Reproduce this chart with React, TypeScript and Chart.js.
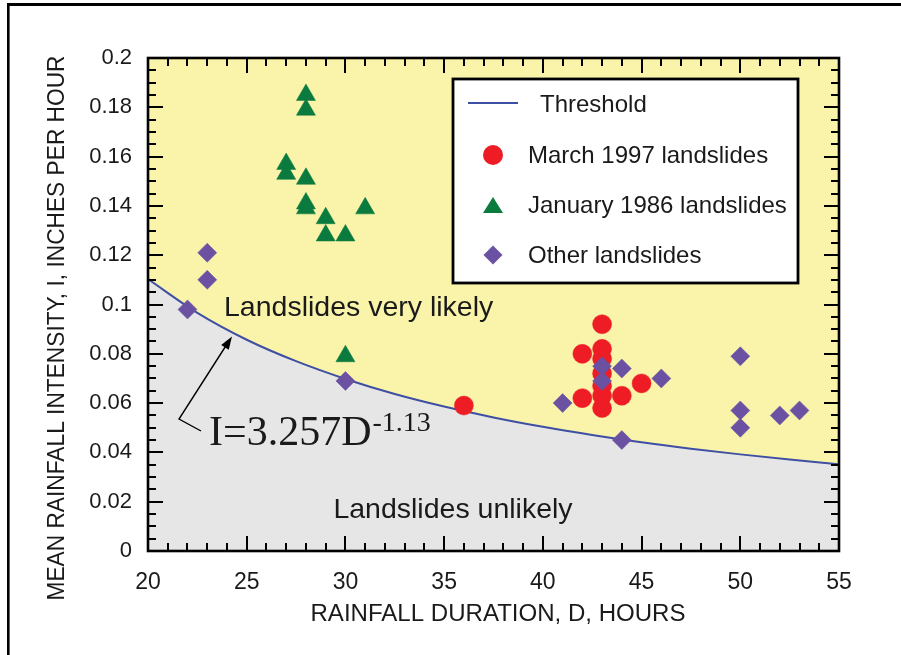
import React, { useEffect, useRef } from 'react';
import { Chart, registerables } from 'chart.js';

Chart.register(...registerables);

// ---- data ----
const thresholdD = [20, 22.5, 25, 27.5, 30, 32.5, 35, 37.5, 40, 42.5, 45, 47.5, 50, 52.5, 55];
const thresholdI = [0.1103, 0.0966, 0.0857, 0.077, 0.0698, 0.0637, 0.0586, 0.0542, 0.0504, 0.0471, 0.0441, 0.0415, 0.0392, 0.0371, 0.0352];

const marchD = [36, 42, 42, 43, 43, 43, 43, 43, 43, 43, 44, 45];
const marchI = [0.059, 0.08, 0.062, 0.092, 0.082, 0.078, 0.072, 0.067, 0.063, 0.058, 0.063, 0.068];

const januaryD = [28, 28, 27, 27, 28, 28, 28, 29, 29, 30, 31, 30];
const januaryI = [0.185, 0.179, 0.157, 0.153, 0.151, 0.141, 0.139, 0.135, 0.128, 0.128, 0.139, 0.079];

const otherD = [22, 23, 23, 30, 41, 43, 43, 44, 46, 44, 50, 50, 50, 52, 53];
const otherI = [0.098, 0.121, 0.11, 0.069, 0.06, 0.075, 0.069, 0.074, 0.07, 0.045, 0.079, 0.057, 0.05, 0.055, 0.057];

const seriesNames = ['Threshold', 'March 1997 landslides', 'January 1986 landslides', 'Other landslides'];
const xTitle = 'RAINFALL DURATION, D, HOURS';
const yTitle = 'MEAN RAINFALL INTENSITY, I, INCHES PER HOUR';
const aboveLabel = 'Landslides very likely';
const belowLabel = 'Landslides unlikely';
const equationMain = 'I=3.257D';
const equationExp = '-1.13';

// ---- styles ----
const YELLOW = '#f9f4a9';
const GREY = '#e6e6e6';
const BLUE = '#3f4fa3';
const RED = '#ee1c25';
const GREEN = '#0b7a3e';
const PURPLE = '#6a51a2';
const INK = '#1a1a1a';
const SANS = '"Liberation Sans", Arial, Helvetica, sans-serif';
const SERIF = '"Liberation Serif", "Times New Roman", serif';

const toPts = (xs: number[], ys: number[]) => xs.map((x, i) => ({ x, y: ys[i] }));

function drawMarker(ctx: CanvasRenderingContext2D, kind: string, x: number, y: number) {
  ctx.beginPath();
  if (kind === 'circle') {
    ctx.fillStyle = RED;
    ctx.arc(x, y, 10, 0, Math.PI * 2);
  } else if (kind === 'triangle') {
    ctx.fillStyle = GREEN;
    ctx.moveTo(x, y - 9);
    ctx.lineTo(x + 10, y + 7);
    ctx.lineTo(x - 10, y + 7);
    ctx.closePath();
  } else {
    ctx.fillStyle = PURPLE;
    ctx.moveTo(x, y - 9.5);
    ctx.lineTo(x + 9.5, y);
    ctx.lineTo(x, y + 9.5);
    ctx.lineTo(x - 9.5, y);
    ctx.closePath();
  }
  ctx.fill();
}

function stretchedText(ctx: CanvasRenderingContext2D, text: string, cx: number, cy: number, targetW: number, rotate: boolean) {
  ctx.save();
  ctx.translate(cx, cy);
  if (rotate) ctx.rotate(-Math.PI / 2);
  const w = ctx.measureText(text).width;
  ctx.scale(targetW / w, 1);
  ctx.textAlign = 'center';
  ctx.textBaseline = 'middle';
  ctx.fillText(text, 0, 0);
  ctx.restore();
}

const decor = {
  id: 'decor',
  beforeDraw(chart: any) {
    const { ctx, chartArea: a, width, height } = chart;
    ctx.save();
    ctx.fillStyle = '#ffffff';
    ctx.fillRect(0, 0, width, height);
    ctx.fillStyle = YELLOW;
    ctx.fillRect(a.left, a.top, a.right - a.left, a.bottom - a.top);
    ctx.fillStyle = '#000';
    ctx.fillRect(7, 3, width - 7, 3);
    ctx.fillRect(7, 3, 2.6, height - 3);
    ctx.restore();
  },
  afterDatasetsDraw(chart: any) {
    const { ctx } = chart;
    ctx.save();
    ctx.fillStyle = INK;
    ctx.textBaseline = 'alphabetic';
    ctx.font = `28.5px ${SANS}`;
    ctx.textAlign = 'left';
    ctx.fillText(aboveLabel, 224, 316);
    ctx.textAlign = 'center';
    ctx.fillText(belowLabel, 453, 518);

    // equation
    ctx.textAlign = 'left';
    ctx.font = `42px ${SERIF}`;
    ctx.fillText(equationMain, 209, 445);
    const w = ctx.measureText(equationMain).width;
    ctx.font = `28px ${SERIF}`;
    ctx.fillText(equationExp, 209 + w + 1, 431);

    // arrow
    ctx.strokeStyle = '#000';
    ctx.lineWidth = 1.4;
    ctx.beginPath();
    ctx.moveTo(201, 431);
    ctx.lineTo(179, 419);
    ctx.lineTo(229, 341);
    ctx.stroke();
    const tx = 232, ty = 336.5;
    const dx = 232 - 179, dy = 336.5 - 419;
    const len = Math.hypot(dx, dy);
    const ux = dx / len, uy = dy / len;
    const bx = tx - ux * 13, by = ty - uy * 13;
    ctx.fillStyle = '#000';
    ctx.beginPath();
    ctx.moveTo(tx, ty);
    ctx.lineTo(bx - uy * 4.5, by + ux * 4.5);
    ctx.lineTo(bx + uy * 4.5, by - ux * 4.5);
    ctx.closePath();
    ctx.fill();
    ctx.restore();
  },
  afterDraw(chart: any) {
    const { ctx, chartArea: a, scales } = chart;
    const xs = scales.x, ys = scales.y;
    ctx.save();
    // inward ticks
    ctx.strokeStyle = '#000';
    ctx.lineWidth = 2;
    ctx.beginPath();
    for (let d = 20; d <= 55; d += 1) {
      const px = Math.round(xs.getPixelForValue(d));
      const L = d % 5 === 0 ? 15 : 8;
      ctx.moveTo(px, a.bottom);
      ctx.lineTo(px, a.bottom - L);
      ctx.moveTo(px, a.top);
      ctx.lineTo(px, a.top + L);
    }
    for (let k = 0; k <= 40; k += 1) {
      const py = Math.round(ys.getPixelForValue(k * 0.005));
      const L = k % 4 === 0 ? 15 : 8;
      ctx.moveTo(a.left, py);
      ctx.lineTo(a.left + L, py);
      ctx.moveTo(a.right, py);
      ctx.lineTo(a.right - L, py);
    }
    ctx.stroke();
    // plot border
    ctx.lineWidth = 2.6;
    ctx.strokeRect(a.left, a.top, a.right - a.left, a.bottom - a.top);

    // axis titles
    ctx.fillStyle = INK;
    ctx.font = `23px ${SANS}`;
    stretchedText(ctx, xTitle, 498, 615, 375, false);
    stretchedText(ctx, yTitle, 58, 328, 545, true);

    // legend
    ctx.fillStyle = '#ffffff';
    ctx.fillRect(453, 79, 345, 204);
    ctx.strokeStyle = '#000';
    ctx.lineWidth = 2.8;
    ctx.strokeRect(453, 79, 345, 204);
    ctx.strokeStyle = BLUE;
    ctx.lineWidth = 2.2;
    ctx.beginPath();
    ctx.moveTo(468, 103);
    ctx.lineTo(518, 103);
    ctx.stroke();
    drawMarker(ctx, 'circle', 493, 155);
    drawMarker(ctx, 'triangle', 493, 206);
    drawMarker(ctx, 'diamond', 493, 255);
    ctx.fillStyle = INK;
    ctx.font = `24px ${SANS}`;
    ctx.textAlign = 'left';
    ctx.textBaseline = 'alphabetic';
    ctx.fillText(seriesNames[0], 540, 112);
    ctx.fillText(seriesNames[1], 528, 163);
    ctx.fillText(seriesNames[2], 528, 213);
    ctx.fillText(seriesNames[3], 528, 263);
    ctx.restore();
  },
};

export default function App() {
  const ref = useRef<HTMLCanvasElement | null>(null);
  useEffect(() => {
    if (!ref.current) return;
    const chart = new Chart(ref.current, {
      type: 'scatter',
      data: {
        datasets: [
          {
            label: seriesNames[0],
            data: toPts(thresholdD, thresholdI),
            showLine: true,
            borderColor: BLUE,
            borderWidth: 2,
            backgroundColor: GREY,
            fill: 'origin',
            pointRadius: 0,
            cubicInterpolationMode: 'monotone',
            order: 4,
          } as any,
          {
            label: seriesNames[1],
            data: toPts(marchD, marchI),
            pointStyle: 'circle',
            pointRadius: 9.5,
            backgroundColor: RED,
            borderColor: RED,
            borderWidth: 0.5,
            order: 3,
          },
          {
            label: seriesNames[2],
            data: toPts(januaryD, januaryI),
            pointStyle: 'triangle',
            pointRadius: 11,
            backgroundColor: GREEN,
            borderColor: GREEN,
            borderWidth: 0.5,
            order: 2,
          },
          {
            label: seriesNames[3],
            data: toPts(otherD, otherI),
            pointStyle: 'rectRot',
            pointRadius: 9.5,
            backgroundColor: PURPLE,
            borderColor: PURPLE,
            borderWidth: 0.5,
            order: 1,
          },
        ],
      },
      options: {
        responsive: false,
        animation: false,
        devicePixelRatio: 1,
        events: [],
        layout: { padding: { left: 0, top: 58, right: 62, bottom: 0 } },
        plugins: { legend: { display: false }, tooltip: { enabled: false } },
        scales: {
          x: {
            type: 'linear',
            min: 20,
            max: 55,
            ticks: {
              stepSize: 5,
              padding: 18,
              color: INK,
              font: { family: SANS, size: 23 },
              maxRotation: 0,
            },
            grid: { display: false, drawTicks: false },
            border: { display: false },
            afterFit: (s: any) => { s.height = 655 - 551; },
          },
          y: {
            type: 'linear',
            min: 0,
            max: 0.2,
            ticks: {
              stepSize: 0.02,
              padding: 16,
              color: INK,
              font: { family: SANS, size: 22 },
              callback: (v: any) => String(Number(Number(v).toFixed(3))),
            },
            grid: { display: false, drawTicks: false },
            border: { display: false },
            afterFit: (s: any) => { s.width = 148; },
          },
        },
      },
      plugins: [decor],
    });
    return () => chart.destroy();
  }, []);
  return (
    <div style={{ position: 'absolute', left: 0, top: 0, width: 901, height: 655, background: '#fff' }}>
      <canvas ref={ref} width={901} height={655} style={{ display: 'block', width: 901, height: 655 }} />
    </div>
  );
}
